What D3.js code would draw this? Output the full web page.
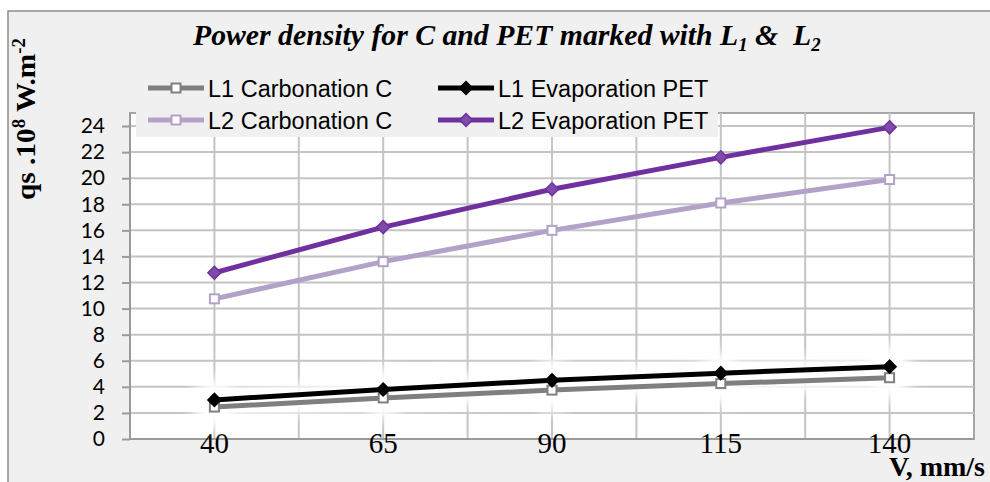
<!DOCTYPE html>
<html><head><meta charset="utf-8">
<script src="https://cdn.jsdelivr.net/npm/d3@7/dist/d3.min.js"></script>
<style>
html,body{margin:0;padding:0;background:#fff;}
svg{display:block;}
text{white-space:pre;}
</style></head>
<body>
<svg id="chart" width="990" height="482"></svg>
<script>
// ---- data ----
const categories = [40, 65, 90, 115, 140];
const yTicks = [0, 2, 4, 6, 8, 10, 12, 14, 16, 18, 20, 22, 24];
const seriesNames = ["L1 Carbonation C", "L1 Evaporation PET", "L2 Carbonation C", "L2 Evaporation PET"];
const l1Carbonation = [2.45, 3.15, 3.75, 4.25, 4.7];
const l1Evaporation = [3.0, 3.8, 4.5, 5.05, 5.55];
const l2Carbonation = [10.75, 13.6, 16.0, 18.1, 19.9];
const l2Evaporation = [12.75, 16.25, 19.15, 21.6, 23.9];

const series = [
  {name: seriesNames[0], values: l1Carbonation, color: "#7f7f7f", marker: "square", mstroke: "#7f7f7f", mfill: "#ffffff", glow: true},
  {name: seriesNames[1], values: l1Evaporation, color: "#000000", marker: "diamond", mstroke: "#000000", mfill: "#000000", glow: true},
  {name: seriesNames[2], values: l2Carbonation, color: "#b3a2c7", marker: "square", mstroke: "#b3a2c7", mfill: "#ffffff", glow: false},
  {name: seriesNames[3], values: l2Evaporation, color: "#7030a0", marker: "diamond", mstroke: "#7030a0", mfill: "#7d4ba8", glow: false}
];

const svg = d3.select("#chart");
const W = 990, H = 482;
const plot = {left: 130, right: 974, top: 113, bottom: 439};

// background
svg.append("rect").attr("x", 0).attr("y", 0).attr("width", W).attr("height", H).attr("fill", "#ffffff");
svg.append("rect").attr("x", 8).attr("y", 11).attr("width", W + 20).attr("height", H + 20)
  .attr("fill", "#f0f0f0").attr("stroke", "#8c8c8c").attr("stroke-width", 1.5);

const defs = svg.append("defs");
defs.append("filter").attr("id", "glow").attr("x", "-50%").attr("y", "-50%").attr("width", "200%").attr("height", "200%")
  .append("feGaussianBlur").attr("stdDeviation", 7);

// scales
const x = d3.scaleBand().domain(categories).range([plot.left, plot.right]).paddingInner(0).paddingOuter(0);
const cx = c => x(c) + x.bandwidth() / 2;
const y = d3.scaleLinear().domain([0, 25]).range([plot.bottom, plot.top]);

// plot area
svg.append("rect").attr("x", plot.left).attr("y", plot.top)
  .attr("width", plot.right - plot.left).attr("height", plot.bottom - plot.top)
  .attr("fill", "#ffffff").attr("stroke", "#a6a6a6").attr("stroke-width", 2);

// gridlines
const grid = svg.append("g");
grid.selectAll("line.h").data(yTicks.filter(d => d > 0)).enter().append("line")
  .attr("x1", plot.left).attr("x2", plot.right)
  .attr("y1", d => y(d)).attr("y2", d => y(d))
  .attr("stroke", "#c4c4c4").attr("stroke-width", 2);
const vLines = categories.map(c => cx(c)).concat(categories.slice(1).map(c => x(c)));
grid.selectAll("line.v").data(vLines).enter().append("line")
  .attr("x1", d => d).attr("x2", d => d)
  .attr("y1", plot.top).attr("y2", plot.bottom)
  .attr("stroke", "#c4c4c4").attr("stroke-width", 2);

// axes
const yAxis = d3.axisLeft(y).tickValues(yTicks).tickSize(8).tickPadding(17).tickFormat(d3.format("d"));
const gy = svg.append("g").attr("transform", `translate(${plot.left},0)`).call(yAxis);
gy.select(".domain").attr("stroke", "#9a9a9a").attr("stroke-width", 2).attr("d", `M0,${plot.bottom}V${plot.top}`);
gy.selectAll(".tick line").attr("stroke", "#9a9a9a").attr("stroke-width", 2);
gy.selectAll(".tick text").attr("font-family", "Lato, 'Open Sans', sans-serif").attr("font-size", 21).attr("fill", "#000");

const xAxis = d3.axisBottom(x).tickSize(0).tickPadding(0);
const gx = svg.append("g").attr("transform", `translate(0,${plot.bottom})`).call(xAxis);
gx.select(".domain").attr("stroke", "#9a9a9a").attr("stroke-width", 2).attr("d", `M${plot.left},0H${plot.right}`);
gx.selectAll(".tick text").attr("font-family", "'Liberation Serif', 'Times New Roman', serif")
  .attr("font-size", 29).attr("fill", "#000").attr("dy", null).attr("y", 14);

// glow behind L1 series
const line = d3.line().x((d, i) => cx(categories[i])).y(d => y(d));
const glowG = svg.append("g").attr("filter", "url(#glow)");
series.filter(s => s.glow).forEach(s => {
  glowG.append("path").attr("d", line(s.values)).attr("fill", "none")
    .attr("stroke", "#ffffff").attr("stroke-width", 22).attr("stroke-linejoin", "round");
  glowG.selectAll(null).data(s.values).enter().append("circle")
    .attr("cx", (d, i) => cx(categories[i])).attr("cy", d => y(d)).attr("r", 22).attr("fill", "#ffffff");
});

function drawMarker(g, type, px, py, stroke, fill) {
  if (type === "square") {
    g.append("rect").attr("x", px - 4.5).attr("y", py - 4.5).attr("width", 9).attr("height", 9)
      .attr("fill", fill).attr("stroke", stroke).attr("stroke-width", 2);
  } else {
    const r = 6.5;
    g.append("path").attr("d", `M${px},${py - r}L${px + r},${py}L${px},${py + r}L${px - r},${py}Z`)
      .attr("fill", fill).attr("stroke", stroke).attr("stroke-width", 1.5);
  }
}

// series
series.forEach(s => {
  const g = svg.append("g");
  g.append("path").attr("d", line(s.values)).attr("fill", "none")
    .attr("stroke", s.color).attr("stroke-width", 5).attr("stroke-linejoin", "round");
  s.values.forEach((v, i) => drawMarker(g, s.marker, cx(categories[i]), y(v), s.mstroke, s.mfill));
});

// legend
const leg = svg.append("g");
leg.append("rect").attr("x", 136).attr("y", 70).attr("width", 582).attr("height", 67).attr("fill", "#f0f0f0");
const legPos = [[148, 88], [438, 88], [148, 120], [438, 120]];
series.forEach((s, i) => {
  const [lx, ly] = legPos[i];
  leg.append("line").attr("x1", lx).attr("x2", lx + 56).attr("y1", ly).attr("y2", ly)
    .attr("stroke", s.color).attr("stroke-width", 5);
  drawMarker(leg, s.marker, lx + 28, ly, s.mstroke, s.mfill);
  leg.append("text").attr("x", lx + 60).attr("y", ly + 8.5)
    .attr("font-family", "'Liberation Sans', Arial, sans-serif").attr("font-size", 23.5).attr("fill", "#000")
    .text(s.name);
});

// title
function fitX(sel, target) {
  const w = sel.node().getComputedTextLength();
  return target / w;
}
const title = svg.append("text").attr("x", 0).attr("y", 0)
  .attr("font-family", "'Liberation Serif', 'Times New Roman', serif")
  .attr("font-size", 30).attr("font-weight", "bold").attr("font-style", "italic").attr("fill", "#000");
title.append("tspan").text("Power density for C and PET marked with L");
title.append("tspan").attr("font-size", 19).attr("dy", 6).text("1");
title.append("tspan").attr("dy", -6).text(" &  L");
title.append("tspan").attr("font-size", 19).attr("dy", 6).text("2");
const ts = fitX(title, 628);
title.attr("transform", `translate(193,44.5) scale(${ts},1)`);

// y axis title
const yt = svg.append("text").attr("x", 0).attr("y", 0)
  .attr("font-family", "'Liberation Serif', 'Times New Roman', serif")
  .attr("font-size", 28).attr("font-weight", "bold").attr("fill", "#000");
yt.append("tspan").text("qs .10");
yt.append("tspan").attr("font-size", 18).attr("dy", -10).text("8");
yt.append("tspan").attr("dy", 10).text(" W.m");
yt.append("tspan").attr("font-size", 18).attr("dy", -10).text("-2");
const ys = fitX(yt, 162);
yt.attr("transform", `translate(35,200) rotate(-90) scale(${ys},1)`);

// x axis title
svg.append("text").attr("x", 985).attr("y", 476).attr("text-anchor", "end")
  .attr("font-family", "'Liberation Serif', 'Times New Roman', serif")
  .attr("font-size", 28).attr("font-weight", "bold").attr("fill", "#000")
  .text("V, mm/s");
</script>
</body></html>
